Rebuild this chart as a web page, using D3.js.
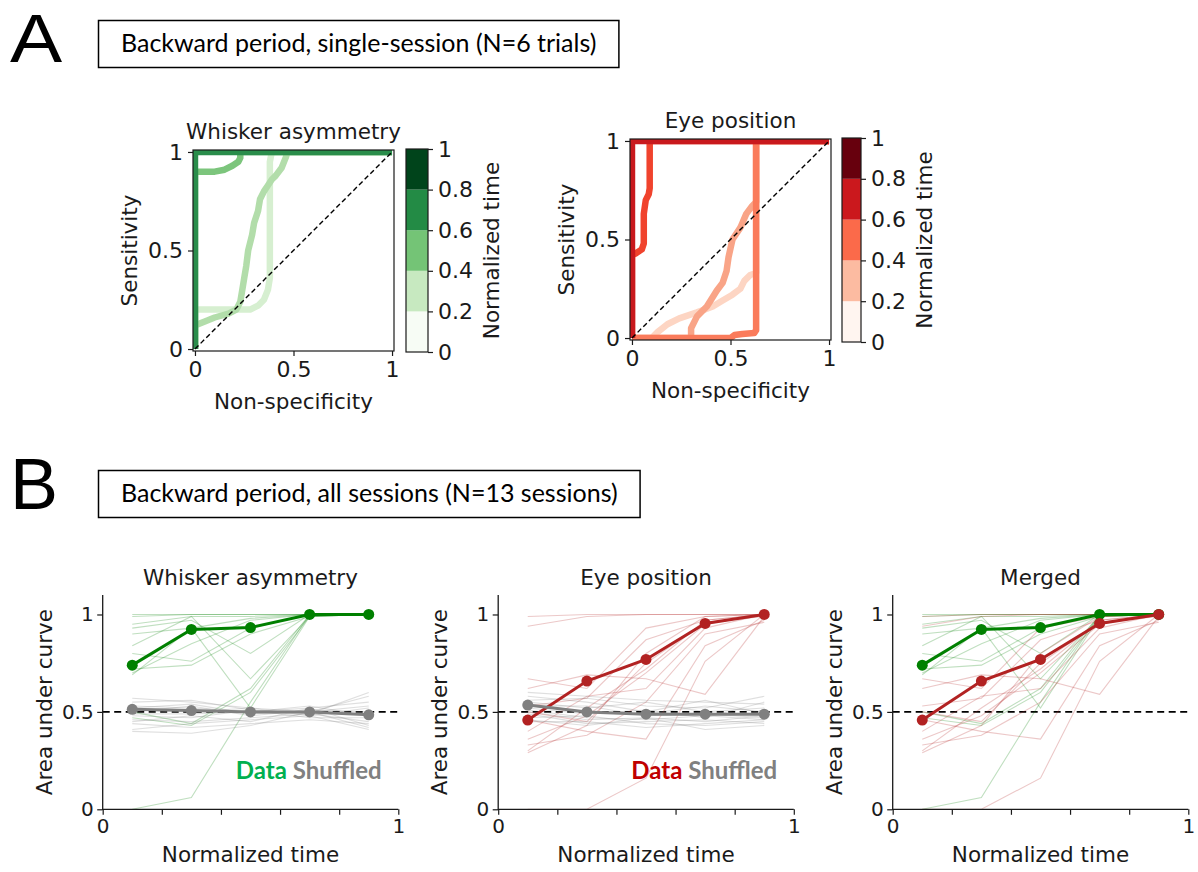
<!DOCTYPE html>
<html><head><meta charset="utf-8">
<script src="https://cdn.jsdelivr.net/npm/d3@7"></script>
<style>body{margin:0;background:#fff}svg{display:block}</style>
</head><body><svg id="c" width="1198" height="872"></svg>
<script>
// ---------------- data ----------------
const timeBins = [0.1, 0.3, 0.5, 0.7, 0.9];
const rocTicks = [0, 0.5, 1];
const cbTicks = [0, 0.2, 0.4, 0.6, 0.8, 1];
const aucXTicks = [0, 0.2, 0.4, 0.6, 0.8, 1];
const aucYTicks = [0, 0.5, 1];
const greenBands = ["#f7fcf5", "#c7e9c0", "#74c476", "#238b45", "#00441b"];
const redBands = ["#fff5f0", "#fcbba1", "#fb6a4a", "#cb181d", "#67000d"];

const whiskerRocCurves = [
  [[0,0],[0,0.2],[0.28,0.2],[0.32,0.22],[0.35,0.25],[0.37,0.3],[0.38,0.36],[0.38,0.6],[0.38,0.95],[0.39,1],[1,1]],
  [[0,0],[0,0.12],[0.05,0.14],[0.1,0.16],[0.17,0.18],[0.21,0.2],[0.23,0.24],[0.24,0.3],[0.25,0.36],[0.26,0.42],[0.27,0.5],[0.29,0.58],[0.3,0.64],[0.32,0.7],[0.33,0.76],[0.35,0.8],[0.37,0.83],[0.39,0.86],[0.41,0.88],[0.44,0.92],[0.46,0.97],[0.47,1],[1,1]],
  [[0,0],[0,0.9],[0.1,0.9],[0.15,0.91],[0.19,0.93],[0.22,0.95],[0.23,0.97],[0.23,1],[1,1]],
  [[0,0],[0,1],[1,1]]
];
const whiskerRocColors = ["#d6efd0", "#b2ddaa", "#7cc57c", "#2a8d4b"];

const eyeRocCurves = [
  [[0,0],[0.1,0],[0.13,0.03],[0.18,0.07],[0.24,0.1],[0.33,0.13],[0.41,0.16],[0.46,0.19],[0.51,0.22],[0.55,0.25],[0.57,0.29],[0.6,0.32],[0.63,0.33],[0.63,1],[1,1]],
  [[0,0],[0.3,0],[0.3,0.05],[0.33,0.11],[0.38,0.16],[0.43,0.24],[0.46,0.28],[0.48,0.34],[0.49,0.41],[0.51,0.5],[0.55,0.56],[0.58,0.63],[0.61,0.67],[0.63,0.69],[0.63,1],[1,1]],
  [[0,0],[0.5,0],[0.52,0.015],[0.56,0.02],[0.62,0.025],[0.63,0.04],[0.63,1],[1,1]],
  [[0,0],[0,0.42],[0.02,0.43],[0.05,0.45],[0.06,0.48],[0.06,0.63],[0.07,0.7],[0.085,0.73],[0.09,0.76],[0.09,1],[1,1]],
  [[0,0],[0,1],[1,1]]
];
const eyeRocColors = ["#fdd5c3", "#f9a487", "#fa7b5b", "#f0432d", "#c9191d"];

const whiskerSessions = [
  [1.00, 1.00, 1.00, 1.00, 1.00],
  [0.99, 1.00, 1.00, 1.00, 1.00],
  [0.95, 0.99, 0.99, 1.00, 1.00],
  [0.93, 0.97, 0.80, 1.00, 1.00],
  [0.90, 0.93, 0.98, 1.00, 1.00],
  [0.84, 0.99, 0.67, 0.99, 1.00],
  [0.80, 0.76, 0.93, 1.00, 1.00],
  [0.72, 0.74, 0.90, 0.99, 1.00],
  [0.70, 0.85, 0.97, 1.00, 1.00],
  [0.69, 0.93, 0.52, 0.99, 1.00],
  [0.50, 0.44, 0.62, 1.00, 1.00],
  [0.47, 0.43, 0.60, 0.99, 1.00],
  [0.00, 0.06, 0.55, 1.00, 1.00]
];
const eyeSessions = [
  [0.99, 1.00, 1.00, 1.00, 1.00],
  [0.94, 0.99, 1.00, 1.00, 1.00],
  [0.67, 0.62, 0.93, 0.99, 1.00],
  [0.62, 0.69, 0.67, 0.59, 0.99],
  [0.53, 0.57, 0.87, 0.97, 1.00],
  [0.50, 0.45, 0.75, 0.96, 0.99],
  [0.46, 0.40, 0.36, 0.84, 0.97],
  [0.40, 0.58, 0.62, 0.93, 1.00],
  [0.36, 0.48, 0.70, 0.95, 1.00],
  [0.33, 0.38, 0.55, 0.90, 0.96],
  [0.30, 0.52, 0.72, 0.97, 1.00],
  [0.29, 0.43, 0.80, 0.99, 1.00],
  [0.00, 0.00, 0.16, 0.76, 1.00]
];
const whiskerShuffled = [
  [0.57, 0.55, 0.52, 0.50, 0.58],
  [0.55, 0.56, 0.51, 0.49, 0.60],
  [0.53, 0.52, 0.50, 0.52, 0.55],
  [0.52, 0.54, 0.49, 0.50, 0.53],
  [0.51, 0.50, 0.52, 0.48, 0.52],
  [0.50, 0.53, 0.48, 0.51, 0.50],
  [0.49, 0.49, 0.50, 0.53, 0.48],
  [0.48, 0.47, 0.51, 0.47, 0.47],
  [0.46, 0.45, 0.47, 0.49, 0.45],
  [0.45, 0.48, 0.45, 0.52, 0.43],
  [0.44, 0.42, 0.44, 0.46, 0.44],
  [0.41, 0.44, 0.46, 0.48, 0.41],
  [0.40, 0.39, 0.43, 0.50, 0.42]
];
const eyeShuffled = [
  [0.60, 0.58, 0.56, 0.55, 0.54],
  [0.58, 0.55, 0.50, 0.56, 0.49],
  [0.56, 0.57, 0.53, 0.52, 0.58],
  [0.55, 0.52, 0.55, 0.50, 0.52],
  [0.54, 0.50, 0.49, 0.53, 0.50],
  [0.53, 0.53, 0.48, 0.49, 0.47],
  [0.52, 0.49, 0.51, 0.47, 0.55],
  [0.51, 0.47, 0.46, 0.48, 0.46],
  [0.50, 0.46, 0.47, 0.45, 0.48],
  [0.49, 0.44, 0.45, 0.46, 0.44],
  [0.47, 0.48, 0.44, 0.43, 0.45],
  [0.46, 0.43, 0.47, 0.41, 0.43],
  [0.45, 0.45, 0.42, 0.44, 0.46]
];
const whiskerMean = [0.74, 0.923, 0.933, 1.0, 1.0];
const whiskerShuffledMean = [0.513, 0.507, 0.50, 0.50, 0.485];
const eyeMean = [0.458, 0.658, 0.769, 0.954, 1.0];
const eyeShuffledMean = [0.535, 0.50, 0.488, 0.488, 0.488];

// ---------------- drawing ----------------
const svg = d3.select("#c");
const FONT = "DejaVu Sans";
const INK = "#1a1a1a";
const fmt = d => d === 0 ? "0" : d === 1 ? "1" : d3.format(".1f")(d);

function styleAxis(fs) {
  return g => {
    g.select(".domain").remove();
    g.selectAll(".tick line").attr("stroke", INK).attr("stroke-width", 1.2);
    g.selectAll(".tick text").attr("font-family", FONT).attr("font-size", fs).attr("fill", INK);
  };
}

// Panel labels and header boxes
function header(letter, ly, lsx, lfs, boxY, text) {
  svg.append("text").attr("transform", `translate(10,${ly}) scale(${lsx},1)`).attr("font-family", "Liberation Sans")
    .attr("font-size", lfs).attr("fill", "#000").text(letter);
  const t = svg.append("text").attr("x", 121).attr("y", boxY + 32).attr("font-family", "Lato")
    .attr("font-size", 25).attr("fill", "#000").text(text);
  const w = t.node().getComputedTextLength();
  svg.insert("rect", "text:last-of-type").attr("x", 98.5).attr("y", boxY + 0.5).attr("width", w + 45).attr("height", 47)
    .attr("fill", "#fff").attr("stroke", "#000").attr("stroke-width", 1.5);
  t.raise();
}
header("A", 62, 1.15, 68, 20, "Backward period, single-session (N=6 trials)");
header("B", 509, 1.0, 72, 470, "Backward period, all sessions (N=13 sessions)");

function rocPanel(cfg) {
  const FS = 21.5, TFS = 22;
  const g = svg.append("g");
  const x = d3.scaleLinear([-0.01, 1.01], [cfg.l, cfg.r]);
  const y = d3.scaleLinear([-0.01, 1.01], [cfg.b, cfg.t]);
  g.append("clipPath").attr("id", cfg.id).append("rect")
    .attr("x", cfg.l).attr("y", cfg.t).attr("width", cfg.r - cfg.l).attr("height", cfg.b - cfg.t);
  const line = d3.line().x(d => x(d[0])).y(d => y(d[1]));
  g.append("g").attr("clip-path", `url(#${cfg.id})`)
    .selectAll("path").data(cfg.curves).join("path")
    .attr("d", line).attr("fill", "none")
    .attr("stroke", (d, i) => cfg.colors[i]).attr("stroke-width", 6.5)
    .attr("stroke-linejoin", "round").attr("stroke-linecap", "butt");
  g.append("path").attr("d", line([[0, 0], [1, 1]])).attr("fill", "none")
    .attr("stroke", "#000").attr("stroke-width", 1.4).attr("stroke-dasharray", "5,3");
  g.append("rect").attr("x", cfg.l).attr("y", cfg.t).attr("width", cfg.r - cfg.l).attr("height", cfg.b - cfg.t)
    .attr("fill", "none").attr("stroke", INK).attr("stroke-width", 1.2);
  g.append("g").attr("transform", `translate(0,${cfg.b})`)
    .call(d3.axisBottom(x).tickValues(rocTicks).tickFormat(fmt).tickSize(5).tickPadding(5).tickSizeOuter(0))
    .call(styleAxis(TFS));
  g.append("g").attr("transform", `translate(${cfg.l},0)`)
    .call(d3.axisLeft(y).tickValues(rocTicks).tickFormat(fmt).tickSize(5).tickPadding(5).tickSizeOuter(0))
    .call(styleAxis(TFS));
  const cx = (cfg.l + cfg.r) / 2, cy = (cfg.t + cfg.b) / 2;
  g.append("text").attr("x", cx).attr("y", cfg.t - 11).attr("text-anchor", "middle")
    .attr("font-family", FONT).attr("font-size", FS).attr("fill", INK).text(cfg.title);
  g.append("text").attr("x", cx).attr("y", cfg.b + 58).attr("text-anchor", "middle")
    .attr("font-family", FONT).attr("font-size", FS).attr("fill", INK).text("Non-specificity");
  g.append("text").attr("transform", `translate(${cfg.l - 56},${cy}) rotate(-90)`).attr("text-anchor", "middle")
    .attr("font-family", FONT).attr("font-size", FS).attr("fill", INK).text("Sensitivity");
  // colorbar
  const cb = cfg.cb;
  const yc = d3.scaleLinear([0, 1], [cb.b, cb.t]);
  const n = cfg.bands.length;
  g.selectAll(null).data(cfg.bands).join("rect")
    .attr("x", cb.l).attr("width", cb.r - cb.l)
    .attr("y", (d, i) => yc((i + 1) / n)).attr("height", (d, i) => yc(i / n) - yc((i + 1) / n))
    .attr("fill", d => d);
  g.append("rect").attr("x", cb.l).attr("y", cb.t).attr("width", cb.r - cb.l).attr("height", cb.b - cb.t)
    .attr("fill", "none").attr("stroke", INK).attr("stroke-width", 1.2);
  g.append("g").attr("transform", `translate(${cb.r},0)`)
    .call(d3.axisRight(yc).tickValues(cbTicks).tickFormat(fmt).tickSize(5).tickPadding(5).tickSizeOuter(0))
    .call(styleAxis(TFS));
  g.append("text").attr("transform", `translate(${cb.r + 71},${(cb.t + cb.b) / 2}) rotate(-90)`)
    .attr("text-anchor", "middle").attr("font-family", FONT).attr("font-size", FS).attr("fill", INK)
    .text("Normalized time");
}

rocPanel({ id: "clipW", l: 193, r: 394, t: 150, b: 351, curves: whiskerRocCurves, colors: whiskerRocColors,
  title: "Whisker asymmetry", cb: { l: 406, r: 428, t: 149, b: 352 }, bands: greenBands });
rocPanel({ id: "clipE", l: 630, r: 831, t: 139, b: 340, curves: eyeRocCurves, colors: eyeRocColors,
  title: "Eye position", cb: { l: 842, r: 861, t: 138, b: 342 }, bands: redBands });

function aucPanel(cfg) {
  const FS = 21.5, TFS = 20;
  const g = svg.append("g");
  const x = d3.scaleLinear([0, 1], [cfg.l, cfg.l + 295.6]);
  const y = d3.scaleLinear([0, 1.1], [809.3, 595]);
  const line = d3.line().x((d, i) => x(timeBins[i])).y(d => y(d));
  g.append("path").attr("d", d3.line()([[x(0), y(0.5)], [x(1), y(0.5)]]))
    .attr("stroke", "#000").attr("stroke-width", 1.8).attr("stroke-dasharray", "7,4.5");
  cfg.sessions.forEach(s => {
    g.append("g").selectAll("path").data(s.data).join("path")
      .attr("d", line).attr("fill", "none").attr("stroke", s.color)
      .attr("stroke-opacity", s.opacity).attr("stroke-width", 1.1);
  });
  cfg.means.forEach(m => {
    g.append("path").attr("d", line(m.data)).attr("fill", "none")
      .attr("stroke", m.color).attr("stroke-width", 3);
    g.append("g").selectAll("circle").data(m.data).join("circle")
      .attr("cx", (d, i) => x(timeBins[i])).attr("cy", d => y(d)).attr("r", 5.5).attr("fill", m.color);
  });
  g.append("path").attr("d", `M${cfg.l},595V809.3H${cfg.l + 295.6}`).attr("fill", "none")
    .attr("stroke", INK).attr("stroke-width", 1.3);
  g.append("g").attr("transform", "translate(0,809.3)")
    .call(d3.axisBottom(x).tickValues(aucXTicks).tickFormat(d => (d === 0 || d === 1) ? fmt(d) : "")
      .tickSize(5.5).tickPadding(4).tickSizeOuter(0))
    .call(styleAxis(TFS));
  g.append("g").attr("transform", `translate(${cfg.l},0)`)
    .call(d3.axisLeft(y).tickValues(aucYTicks).tickFormat(fmt).tickSize(5.5).tickPadding(3.5).tickSizeOuter(0))
    .call(styleAxis(TFS));
  const cx = cfg.l + 295.6 / 2;
  g.append("text").attr("x", cx).attr("y", 585).attr("text-anchor", "middle")
    .attr("font-family", FONT).attr("font-size", FS).attr("fill", INK).text(cfg.title);
  g.append("text").attr("x", cx).attr("y", 862).attr("text-anchor", "middle")
    .attr("font-family", FONT).attr("font-size", FS).attr("fill", INK).text("Normalized time");
  g.append("text").attr("transform", `translate(${cfg.l - 51},${y(0.55)}) rotate(-90)`).attr("text-anchor", "middle")
    .attr("font-family", FONT).attr("font-size", FS).attr("fill", INK).text("Area under curve");
  if (cfg.legend) {
    const t = g.append("text").attr("x", cfg.l + 279).attr("y", 779).attr("text-anchor", "end")
      .attr("font-family", "Lato").attr("font-weight", "bold").attr("font-size", 24);
    t.append("tspan").attr("fill", cfg.legend).text("Data ");
    t.append("tspan").attr("fill", "#808080").text("Shuffled");
  }
}

const GREEN = "#008000", RED = "#b22222", GRAY = "#808080";
aucPanel({ l: 102.7, title: "Whisker asymmetry", legend: "#00b050",
  sessions: [{ data: whiskerSessions, color: GREEN, opacity: 0.25 }, { data: whiskerShuffled, color: GRAY, opacity: 0.25 }],
  means: [{ data: whiskerMean, color: GREEN }, { data: whiskerShuffledMean, color: GRAY }] });
aucPanel({ l: 498.2, title: "Eye position", legend: "#c00000",
  sessions: [{ data: eyeSessions, color: RED, opacity: 0.25 }, { data: eyeShuffled, color: GRAY, opacity: 0.25 }],
  means: [{ data: eyeMean, color: RED }, { data: eyeShuffledMean, color: GRAY }] });
aucPanel({ l: 892.7, title: "Merged", legend: null,
  sessions: [{ data: whiskerSessions, color: GREEN, opacity: 0.25 }, { data: eyeSessions, color: RED, opacity: 0.25 }],
  means: [{ data: whiskerMean, color: GREEN }, { data: eyeMean, color: RED }] });
</script></body></html>
